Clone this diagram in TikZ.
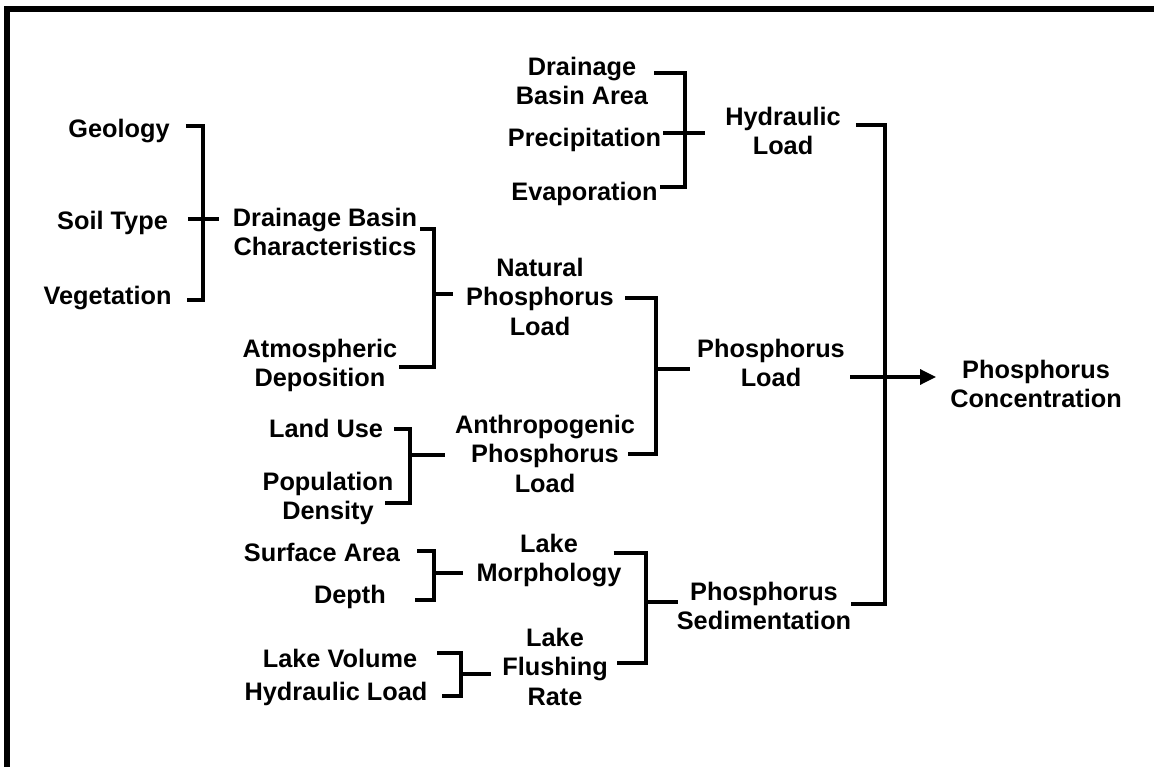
\documentclass[tikz,border=0pt]{standalone}
\usepackage{fontspec}
\setmainfont{Liberation Sans}
\usepackage{tikz}
\usetikzlibrary{calc, arrows.meta}

\begin{document}
\begin{tikzpicture}[x=1pt, y=-1pt,
font=\bfseries\fontsize{25.3pt}{29.3pt}\selectfont,
factor/.style={align=center, inner sep=0pt, anchor=north},
bracket/.style={line width=3.2pt},
arrow/.style={line width=3.2pt, -{Triangle[length=16pt,width=15pt]}}
]
\useasboundingbox (0,0) rectangle (1154,767);

% Frame (top and left only)
\fill (4,6) rectangle (1154,12);
\fill (4,6) rectangle (10,767);

% Drainage basin factors
\node[factor] (geology) at (119,119) {Geology};
\node[factor] (soil) at (112.5,211) {Soil Type};
\node[factor] (veg) at (107.5,286) {Vegetation};
\node[factor] (dbc) at (325,208) {Drainage Basin\\Characteristics};
\node[factor] (atmos) at (320,339) {Atmospheric\\Deposition};

% Hydraulic factors
\node[factor] (dba) at (582,57) {Drainage\\Basin Area};
\node[factor] (precip) at (584.5,128) {Precipitation};
\node[factor] (evap) at (584.5,182) {Evaporation};
\node[factor] (hydload) at (783,107) {Hydraulic\\Load};

% Phosphorus loads
\node[factor] (natp) at (540,258) {Natural\\Phosphorus\\Load};
\node[factor] (landuse) at (326,419) {Land Use};
\node[factor] (popd) at (328,472) {Population\\Density};
\node[factor] (anthp) at (545,415) {Anthropogenic\\Phosphorus\\Load};
\node[factor] (pload) at (771,339) {Phosphorus\\Load};

% Lake factors
\node[factor] (surf) at (322,543) {Surface Area};
\node[factor] (depth) at (350,585) {Depth};
\node[factor] (morph) at (549,534) {Lake\\Morphology};
\node[factor] (lakevol) at (340,649) {Lake Volume};
\node[factor] (hydload2) at (336,682) {Hydraulic Load};
\node[factor] (flush) at (555,628) {Lake\\Flushing\\Rate};
\node[factor] (sed) at (764,582) {Phosphorus\\Sedimentation};

% Output
\node[factor] (conc) at (1036,360) {Phosphorus\\Concentration};

% Bracket spines
\coordinate (b1t) at (203,126); \coordinate (b1m) at (203,219); \coordinate (b1b) at (203,300);
\coordinate (b2t) at (434,229); \coordinate (b2m) at (434,294); \coordinate (b2b) at (434,367);
\coordinate (b3t) at (685,73);  \coordinate (b3m) at (685,133); \coordinate (b3b) at (685,187);
\coordinate (b4t) at (885,125); \coordinate (b4m) at (885,377); \coordinate (b4b) at (885,604);
\coordinate (b5t) at (656,298); \coordinate (b5m) at (656,369); \coordinate (b5b) at (656,454);
\coordinate (b6t) at (410,429); \coordinate (b6m) at (410,455); \coordinate (b6b) at (410,503);
\coordinate (b7t) at (646,553); \coordinate (b7m) at (646,602); \coordinate (b7b) at (646,663);
\coordinate (b8t) at (434,551); \coordinate (b8m) at (434,573); \coordinate (b8b) at (434,600);
\coordinate (b9t) at (461,653); \coordinate (b9m) at (461,674); \coordinate (b9b) at (461,696);

% Brackets
\draw[bracket] ($(geology.east |- b1t)+(16,0)$) -- (b1t) -- (b1b) -- ($(veg.east |- b1b)+(15,0)$);
\draw[bracket] ($(soil.east |- b1m)+(20,0)$) -- ($(dbc.west |- b1m)+(-14,0)$);

\draw[bracket] ($(dbc.east |- b2t)+(3,0)$) -- (b2t) -- (b2b) -- ($(atmos.east |- b2b)+(1,0)$);
\draw[bracket] (b2m) -- ($(natp.west |- b2m)+(-13,0)$);

\draw[bracket] ($(dba.east |- b3t)+(6,0)$) -- (b3t) -- (b3b) -- ($(evap.east |- b3b)+(2,0)$);
\draw[bracket] ($(precip.east |- b3m)+(2,0)$) -- ($(hydload.west |- b3m)+(-20,0)$);

\draw[bracket] ($(hydload.east |- b4t)+(15,0)$) -- (b4t) -- (b4b) -- (sed.east |- b4b);
\draw[arrow] ($(pload.east |- b4m)+(5,0)$) -- ($(conc.west |- b4m)+(-14,0)$);

\draw[bracket] ($(natp.east |- b5t)+(11,0)$) -- (b5t) -- (b5b) -- ($(anthp.east |- b5b)+(-7,0)$);
\draw[bracket] (b5m) -- ($(pload.west |- b5m)+(-7,0)$);

\draw[bracket] ($(landuse.east |- b6t)+(11,0)$) -- (b6t) -- (b6b) -- ($(popd.east |- b6b)+(-9,0)$);
\draw[bracket] (b6m) -- ($(anthp.west |- b6m)+(-10,0)$);

\draw[bracket] ($(morph.east |- b7t)+(-8,0)$) -- (b7t) -- (b7b) -- ($(flush.east |- b7b)+(9,0)$);
\draw[bracket] (b7m) -- ($(sed.west |- b7m)+(1,0)$);

\draw[bracket] ($(surf.east |- b8t)+(17,0)$) -- (b8t) -- (b8b) -- ($(depth.east |- b8b)+(29,0)$);
\draw[bracket] (b8m) -- ($(morph.west |- b8m)+(-13,0)$);

\draw[bracket] ($(lakevol.east |- b9t)+(20,0)$) -- (b9t) -- (b9b) -- ($(hydload2.east |- b9b)+(14,0)$);
\draw[bracket] (b9m) -- ($(flush.west |- b9m)+(-11,0)$);

\end{tikzpicture}
\end{document}
